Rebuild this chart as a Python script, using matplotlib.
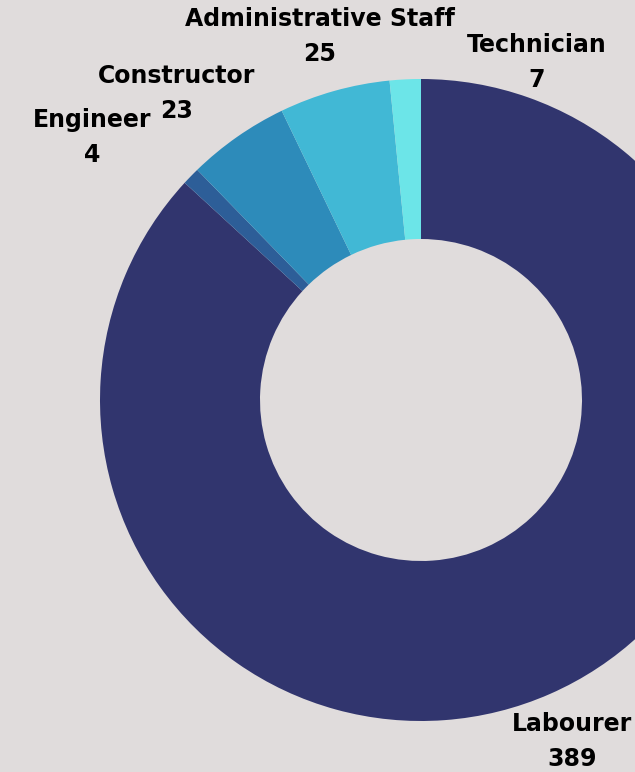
import matplotlib
matplotlib.use("Agg")
import matplotlib.pyplot as plt

# data
categories = ["Labourer", "Engineer", "Constructor", "Administrative Staff", "Technician"]
counts     = [389, 4, 23, 25, 7]
colors     = ["#31356e", "#2d5e98", "#2d8bba", "#41b8d5", "#6ce5e8"]

BG = "#e0dcdc"
W, H = 635, 772

# label anchor points (pixels from top-left): centre of name line, number sits 35px below
label_pos = {
    "Labourer":             (572, 724),
    "Engineer":             (92, 120),
    "Constructor":          (177, 76),
    "Administrative Staff": (320, 19),
    "Technician":           (537, 45),
}
LINE_GAP = 35

fig = plt.figure(figsize=(W / 100, H / 100), dpi=100, facecolor=BG)
ax = fig.add_axes([0, 0, 1, 1])
ax.set_facecolor(BG)

ax.pie(counts, colors=colors, startangle=90, counterclock=False,
       center=(421, H - 400), radius=321,
       wedgeprops=dict(width=160, linewidth=0), frame=True)
ax.set_xlim(0, W)
ax.set_ylim(0, H)
ax.set_aspect("equal")
ax.axis("off")

txt_kw = dict(ha="center", va="center", fontsize=17, fontweight="bold",
              color="black", family=["DejaVu Sans"])
for cat, n in zip(categories, counts):
    x, y = label_pos[cat]
    ax.text(x, H - y, cat, **txt_kw)
    ax.text(x, H - y - LINE_GAP, str(n), **txt_kw)

plt.savefig("out.png", dpi=100, facecolor=BG)
plt.close(fig)
